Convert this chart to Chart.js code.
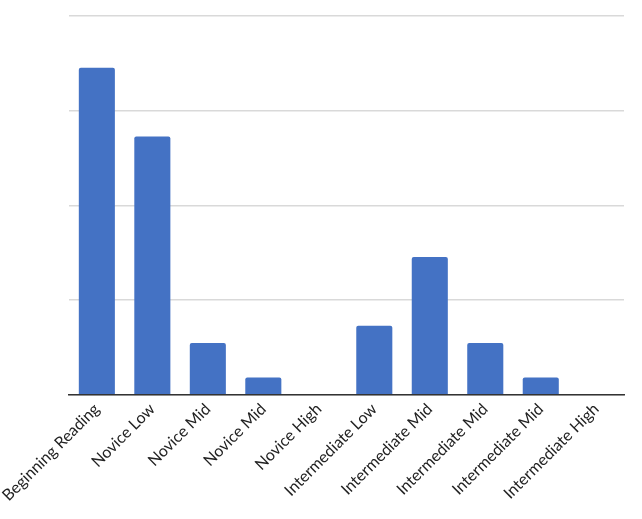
<!DOCTYPE html>
<html>
<head>
<meta charset="utf-8">
<script src="https://cdn.jsdelivr.net/npm/chart.js@4"></script>
<style>
  body { margin: 0; background: #fff; }
  #wrap { width: 642px; height: 519px; }
</style>
</head>
<body>
<div id="wrap"><canvas id="myChart"></canvas></div>
<script>
  var levels = ['Beginning Reading', 'Novice Low', 'Novice Mid', 'Novice Mid', 'Novice High',
    'Intermediate Low', 'Intermediate Mid', 'Intermediate Mid', 'Intermediate Mid', 'Intermediate High'];
  var counts = [19, 15, 3, 1, 0, 4, 8, 3, 1, 0];
  var yMax = 22;
  var yStep = 5.5;

  var ctx = document.getElementById('myChart').getContext('2d');
  var myChart = new Chart(ctx, {
    type: 'bar',
    data: {
      labels: levels,
      datasets: [{
        data: counts,
        backgroundColor: '#4472C4',
        borderRadius: { topLeft: 2, topRight: 2 },
        borderSkipped: 'bottom',
        barPercentage: 0.65,
        categoryPercentage: 1
      }]
    },
    options: {
      responsive: true,
      maintainAspectRatio: false,
      animation: false,
      layout: { padding: { left: 1, right: 18, top: 16, bottom: 9 } },
      plugins: { legend: { display: false }, tooltip: { enabled: false } },
      scales: {
        x: {
          grid: { display: false, drawTicks: false },
          border: { color: '#333', width: 1.5 },
          ticks: {
            color: '#222',
            font: { family: 'Lato', size: 16 },
            maxRotation: 45,
            minRotation: 45,
            padding: 5
          }
        },
        y: {
          min: 0,
          max: yMax,
          grid: { color: '#d9d9d9', lineWidth: 1.5, drawTicks: false },
          border: { display: false },
          ticks: { display: false, stepSize: yStep }
        }
      }
    }
  });
</script>
</body>
</html>
